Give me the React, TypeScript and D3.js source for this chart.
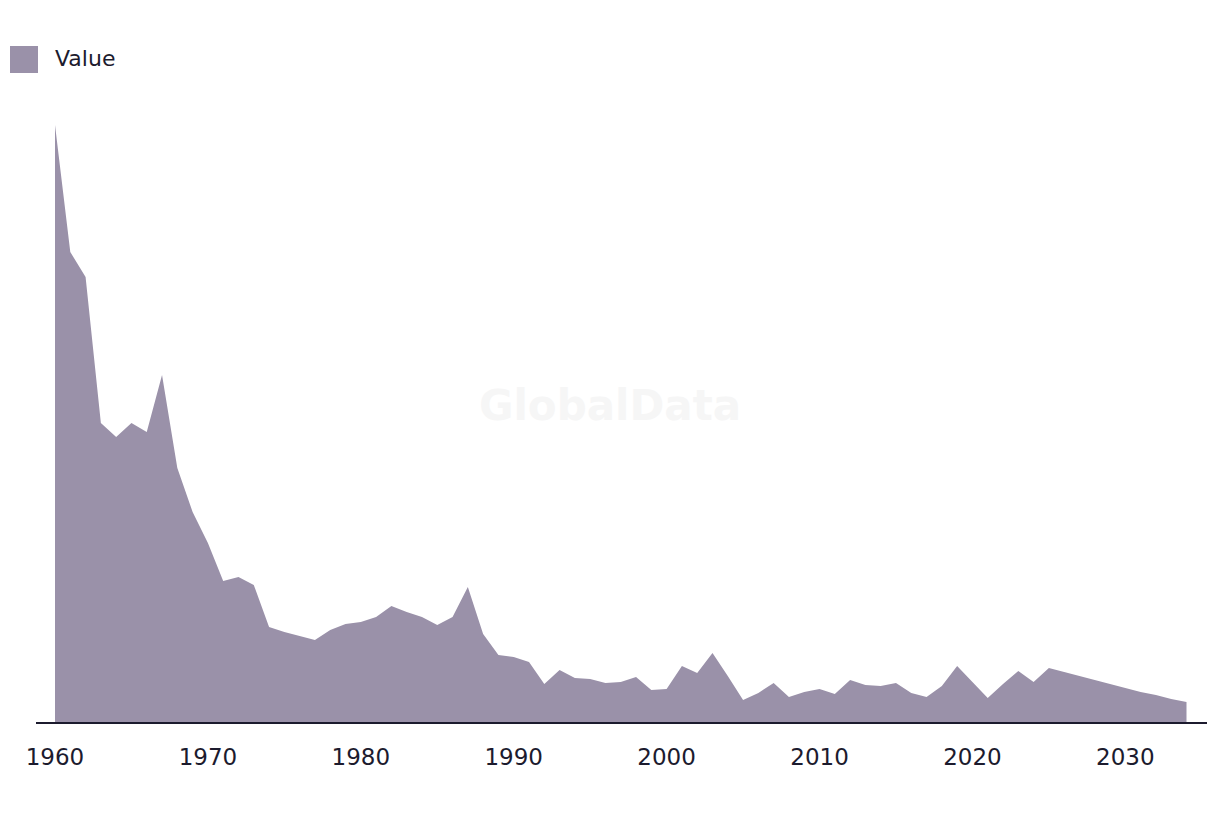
import React from "react";
import * as d3 from "d3";

// years and values (arbitrary units, no y axis shown)
const years: number[] = d3.range(1960, 2035);
const values: number[] = [
  59.8, 47.1, 44.6, 30.0, 28.6, 30.0, 29.1, 34.8, 25.5, 21.1,
  18.0, 14.2, 14.6, 13.8, 9.6, 9.1, 8.7, 8.3, 9.3, 9.9,
  10.1, 10.6, 11.7, 11.1, 10.6, 9.8, 10.6, 13.6, 8.9, 6.8,
  6.6, 6.1, 3.9, 5.3, 4.5, 4.4, 4.0, 4.1, 4.6, 3.3,
  3.4, 5.7, 5.0, 7.0, 4.7, 2.3, 3.0, 4.0, 2.6, 3.1,
  3.4, 2.9, 4.3, 3.8, 3.7, 4.0, 3.0, 2.6, 3.7, 5.7,
  4.1, 2.5, 3.9, 5.2, 4.1, 5.5, 5.1, 4.7, 4.3, 3.9,
  3.5, 3.1, 2.8, 2.4, 2.1,
];
const tickYears: number[] = [1960, 1970, 1980, 1990, 2000, 2010, 2020, 2030];
const seriesName = "Value";

const W = 1220;
const H = 814;
const fill = "#9a91a9";
const ink = "#1c1b2e";
const font = "'DejaVu Sans', Verdana, sans-serif";

export default function App() {
  const x = d3.scaleLinear().domain([1960, 2034]).range([55, 1186.5]);
  const y = d3.scaleLinear().domain([0, 59.8]).range([723, 125]);

  const area = d3
    .area<number>()
    .x((_, i) => x(years[i]))
    .y0(y(0))
    .y1((d) => y(d));

  return (
    <div style={{ position: "absolute", left: 0, top: 0 }}>
      <svg width={W} height={H} style={{ display: "block", background: "#fff" }}>
        {/* legend */}
        <rect x={10} y={46} width={28} height={27} fill={fill} />
        <text x={55} y={66} fontFamily={font} fontSize={22} fill={ink}>
          {seriesName}
        </text>

        {/* watermark */}
        <text
          x={610}
          y={420}
          textAnchor="middle"
          fontFamily={font}
          fontWeight="bold"
          fontSize={42}
          fill="#f6f6f6"
        >
          GlobalData
        </text>

        <path d={area(values) ?? ""} fill={fill} />

        <line x1={36} x2={1207} y1={723} y2={723} stroke={ink} strokeWidth={2} />

        {tickYears.map((t) => (
          <text
            key={t}
            x={x(t)}
            y={765}
            textAnchor="middle"
            fontFamily={font}
            fontSize={23}
            fill={ink}
          >
            {t}
          </text>
        ))}
      </svg>
    </div>
  );
}
